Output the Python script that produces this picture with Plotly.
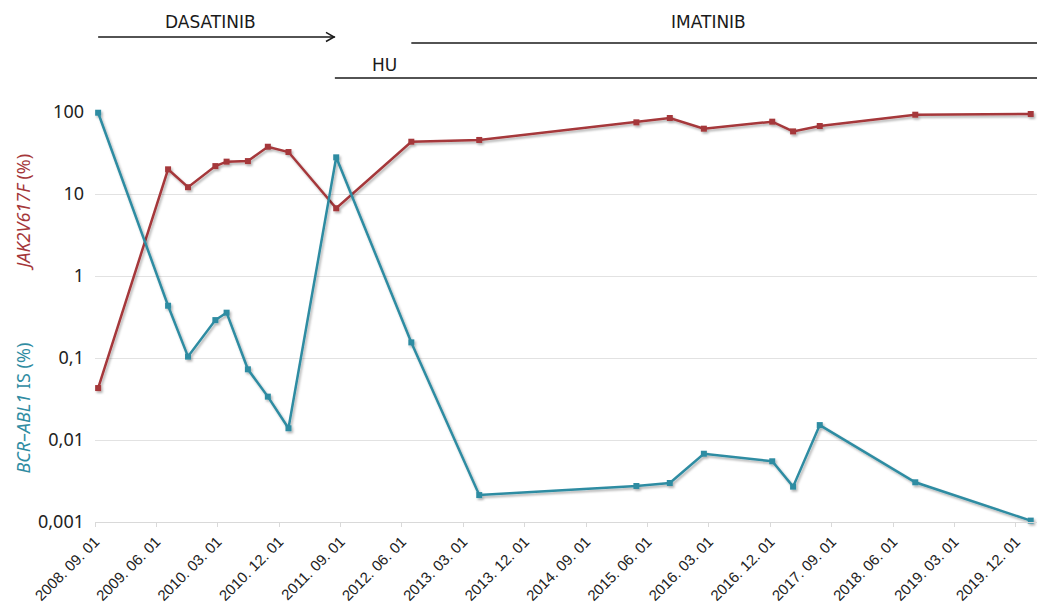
import plotly.graph_objects as go

# Sampling dates and measured levels (%)
sample_dates = [
    "2008-09-15", "2009-07-24", "2009-10-21", "2010-02-20", "2010-04-11",
    "2010-07-15", "2010-10-12", "2011-01-12", "2011-08-13", "2012-07-13",
    "2013-05-12", "2015-04-13", "2015-09-09", "2016-02-08", "2016-12-09",
    "2017-03-12", "2017-07-09", "2018-09-08", "2020-02-05",
]
jak2_v617f = [
    0.043, 20, 12.1, 21.9, 24.8, 25.2, 37.7, 32.5, 6.7, 43.4,
    45.6, 74.8, 84.5, 62.6, 76.2, 58, 67.5, 92.7, 94.6,
]
bcr_abl1_is = [
    98, 0.434, 0.104, 0.29, 0.357, 0.0728, 0.0338, 0.0139, 28, 0.155,
    0.00213, 0.00275, 0.00299, 0.0068, 0.0055, 0.0027, 0.0152, 0.00305, 0.00104,
]

# Axis ticks
x_tick_dates = [
    "2008-09-01", "2009-06-01", "2010-03-01", "2010-12-01", "2011-09-01",
    "2012-06-01", "2013-03-01", "2013-12-01", "2014-09-01", "2015-06-01",
    "2016-03-01", "2016-12-01", "2017-09-01", "2018-06-01", "2019-03-01",
    "2019-12-01",
]
y_tick_values = [0.001, 0.01, 0.1, 1, 10, 100]
y_tick_labels = ["0,001", "0,01", "0,1", "1", "10", "100"]

# Treatment periods
dasatinib_period = ["2008-09-15", "2011-08-07"]
hu_start = "2011-08-07"
imatinib_start = "2012-07-13"
axis_end = "2020-03-04"

RED = "#a5373a"
TEAL = "#2f8ca2"

fig = go.Figure()
fig.add_trace(go.Scatter(
    x=sample_dates, y=jak2_v617f, mode="lines+markers", name="JAK2V617F",
    line=dict(color=RED, width=2.5),
    marker=dict(symbol="square", size=6, color=RED),
    cliponaxis=False,
))
fig.add_trace(go.Scatter(
    x=sample_dates, y=bcr_abl1_is, mode="lines+markers", name="BCR-ABL1 IS",
    line=dict(color=TEAL, width=2.5),
    marker=dict(symbol="square", size=6, color=TEAL),
    cliponaxis=False,
))

line_style = dict(color="#1a1a1a", width=1.5)
shapes = [
    # Dasatinib arrow shaft
    dict(type="line", xref="x", yref="paper", x0=dasatinib_period[0], x1=dasatinib_period[1],
         y0=1.183, y1=1.183, line=line_style),
    # Open arrow head
    dict(type="path", xref="paper", yref="paper",
         path="M 0.2452,1.1940 L 0.2538,1.1830 L 0.2452,1.1720", line=line_style),
    # Imatinib
    dict(type="line", xref="x", yref="paper", x0=imatinib_start, x1=axis_end,
         y0=1.168, y1=1.168, line=line_style),
    # Hydroxyurea
    dict(type="line", xref="x", yref="paper", x0=hu_start, x1=axis_end,
         y0=1.083, y1=1.083, line=line_style),
]

label_font = dict(family="DejaVu Sans", size=17, color="#1a1a1a")
annotations = [
    dict(text="DASATINIB", xref="paper", yref="paper", x=0.1231, y=1.2195,
         showarrow=False, font=label_font, xanchor="center", yanchor="middle"),
    dict(text="IMATINIB", xref="paper", yref="paper", x=0.6518, y=1.2195,
         showarrow=False, font=label_font, xanchor="center", yanchor="middle"),
    dict(text="HU", xref="paper", yref="paper", x=0.3068, y=1.1146,
         showarrow=False, font=label_font, xanchor="center", yanchor="middle"),
    dict(text="<i>JAK2V617F</i> (%)", xref="paper", yref="paper", x=-0.0765, y=0.757,
         showarrow=False, textangle=-90, xanchor="center", yanchor="middle",
         font=dict(family="Noto Sans", size=18, color=RED)),
    dict(text="<i>BCR\u2013ABL1</i> IS (%)", xref="paper", yref="paper", x=-0.0765, y=0.279,
         showarrow=False, textangle=-90, xanchor="center", yanchor="middle",
         font=dict(family="Noto Sans", size=18, color=TEAL)),
]

fig.update_layout(
    width=1040, height=605,
    margin=dict(l=95, r=3, t=112, b=83),
    paper_bgcolor="white", plot_bgcolor="white",
    showlegend=False,
    shapes=shapes, annotations=annotations,
    xaxis=dict(
        type="date", range=[x_tick_dates[0], axis_end], automargin=False,
        tickmode="array", tickvals=x_tick_dates, tickformat="%Y. %m. %d",
        tickangle=-45, tickfont=dict(family="Liberation Sans", size=15, color="#222"),
        showgrid=False, zeroline=False,
        showline=True, linecolor="#d9d9d9", linewidth=1,
        ticks="outside", ticklen=4, tickcolor="#d9d9d9",
    ),
    yaxis=dict(
        type="log", range=[-3, 2], automargin=False,
        tickmode="array", tickvals=y_tick_values, ticktext=y_tick_labels,
        tickfont=dict(family="Noto Sans", size=18, color="#222"),
        showgrid=True, gridcolor="#e2e2e2", gridwidth=1,
        zeroline=False, showline=False, ticks="", ticklabelstandoff=10,
    ),
)

# Soft drop shadow under the data lines
shadow_js = """
var gd = document.getElementById('{plot_id}');
var svg = gd.querySelector('svg.main-svg');
var ns = 'http://www.w3.org/2000/svg';
var defs = svg.querySelector('defs') || svg.insertBefore(document.createElementNS(ns, 'defs'), svg.firstChild);
var f = document.createElementNS(ns, 'filter');
f.setAttribute('id', 'lineshadow');
f.setAttribute('x', '-10%'); f.setAttribute('y', '-10%');
f.setAttribute('width', '120%'); f.setAttribute('height', '120%');
var ds = document.createElementNS(ns, 'feDropShadow');
ds.setAttribute('dx', '1.5'); ds.setAttribute('dy', '2');
ds.setAttribute('stdDeviation', '1.2');
ds.setAttribute('flood-color', '#000'); ds.setAttribute('flood-opacity', '0.3');
f.appendChild(ds);
defs.appendChild(f);
gd.querySelectorAll('.scatterlayer .trace').forEach(function (t) {
    t.setAttribute('filter', 'url(#lineshadow)');
});
"""

fig.write_html("out.html", post_script=shadow_js)
